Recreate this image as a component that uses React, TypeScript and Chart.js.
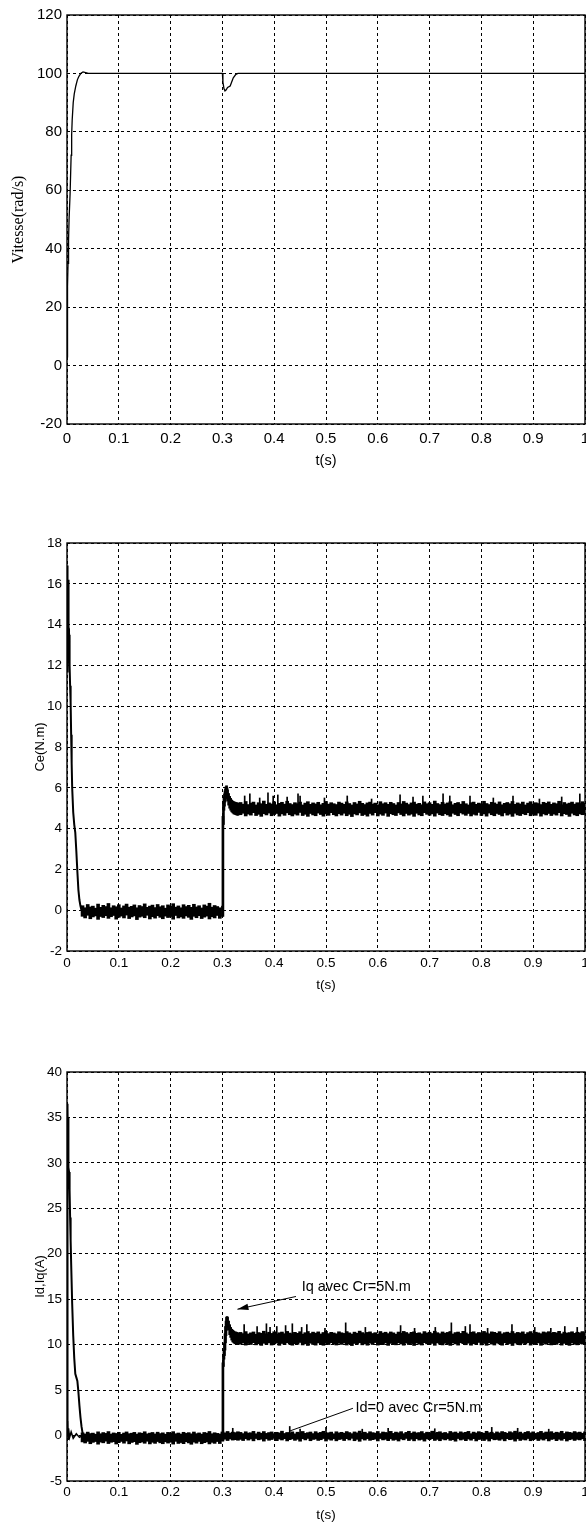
import React, { useEffect, useRef } from "react";
import { Chart, registerables } from "chart.js";
Chart.register(...registerables);

// ---------- axes ----------
const X_TICKS = [0, 0.1, 0.2, 0.3, 0.4, 0.5, 0.6, 0.7, 0.8, 0.9, 1];
const X_LABELS = ["0", "0.1", "0.2", "0.3", "0.4", "0.5", "0.6", "0.7", "0.8", "0.9", "1"];
const SPEED_TICKS = [-20, 0, 20, 40, 60, 80, 100, 120];
const CE_TICKS = [-2, 0, 2, 4, 6, 8, 10, 12, 14, 16, 18];
const I_TICKS = [-5, 0, 5, 10, 15, 20, 25, 30, 35, 40];

// ---------- speed (rad/s) ----------
const SPEED_T = [0, 0.001, 0.002, 0.003, 0.004, 0.006, 0.008, 0.009, 0.010, 0.012, 0.014, 0.017, 0.020, 0.023, 0.027, 0.031, 0.036, 0.041, 0.3, 0.301, 0.303, 0.305, 0.307, 0.310, 0.315, 0.321, 0.326, 0.330, 1.0];
const SPEED_V = [3, 27, 35, 43, 50, 59, 72, 79, 84, 90, 93, 95.7, 97.8, 99, 100.1, 100.5, 100.3, 100, 100, 97, 94.8, 94, 94.3, 95.2, 95.7, 98.5, 99.7, 100, 100];

// ---------- shared sample times of the noisy parts ----------
const T_NOISE1 = [0.03, 0.035, 0.04, 0.045, 0.05, 0.055, 0.06, 0.065, 0.07, 0.075,
  0.08, 0.085, 0.09, 0.095, 0.1, 0.105, 0.11, 0.115, 0.12, 0.125,
  0.13, 0.135, 0.14, 0.145, 0.15, 0.155, 0.16, 0.165, 0.17, 0.175,
  0.18, 0.185, 0.19, 0.195, 0.2, 0.205, 0.21, 0.215, 0.22, 0.225,
  0.23, 0.235, 0.24, 0.245, 0.25, 0.255, 0.26, 0.265, 0.27, 0.275,
  0.28, 0.285, 0.29, 0.295];
const T_STEP = [0.300, 0.301, 0.302, 0.303, 0.304, 0.305, 0.306, 0.307, 0.308, 0.309, 0.310, 0.312, 0.314, 0.316, 0.318, 0.320, 0.322, 0.324, 0.326, 0.328, 0.330];
const T_NOISE2 = [0.335, 0.34, 0.345, 0.35, 0.355, 0.36, 0.365, 0.37, 0.375, 0.38,
  0.385, 0.39, 0.395, 0.4, 0.405, 0.41, 0.415, 0.42, 0.425, 0.43,
  0.435, 0.44, 0.445, 0.45, 0.455, 0.46, 0.465, 0.47, 0.475, 0.48,
  0.485, 0.49, 0.495, 0.5, 0.505, 0.51, 0.515, 0.52, 0.525, 0.53,
  0.535, 0.54, 0.545, 0.55, 0.555, 0.56, 0.565, 0.57, 0.575, 0.58,
  0.585, 0.59, 0.595, 0.6, 0.605, 0.61, 0.615, 0.62, 0.625, 0.63,
  0.635, 0.64, 0.645, 0.65, 0.655, 0.66, 0.665, 0.67, 0.675, 0.68,
  0.685, 0.69, 0.695, 0.7, 0.705, 0.71, 0.715, 0.72, 0.725, 0.73,
  0.735, 0.74, 0.745, 0.75, 0.755, 0.76, 0.765, 0.77, 0.775, 0.78,
  0.785, 0.79, 0.795, 0.8, 0.805, 0.81, 0.815, 0.82, 0.825, 0.83,
  0.835, 0.84, 0.845, 0.85, 0.855, 0.86, 0.865, 0.87, 0.875, 0.88,
  0.885, 0.89, 0.895, 0.9, 0.905, 0.91, 0.915, 0.92, 0.925, 0.93,
  0.935, 0.94, 0.945, 0.95, 0.955, 0.96, 0.965, 0.97, 0.975, 0.98,
  0.985, 0.99, 0.995, 1.0];

// ---------- Ce (N.m) ----------
const CE_START_T = [0, 0.0004, 0.0008, 0.0012, 0.0016, 0.002, 0.0025, 0.003, 0.0035, 0.004, 0.005, 0.006, 0.007, 0.008, 0.009, 0.010, 0.012, 0.014, 0.016, 0.018, 0.020, 0.022, 0.024, 0.026, 0.028, 0.030];
const CE_START_V = [11.7, 16.9, 12.2, 16.4, 13.0, 16.2, 13.6, 15.0, 13.4, 13.5, 12.0, 11.0, 10.2, 8.6, 7.2, 6.0, 4.8, 4.2, 3.8, 2.9, 1.9, 1.0, 0.5, 0.2, 0.0, -0.05];
const CE_HI1 = [0.22, 0.12, 0.28, 0.16, 0.20, 0.10, 0.30, 0.14, 0.24, 0.18,
  0.33, 0.12, 0.22, 0.17, 0.27, 0.11, 0.21, 0.30, 0.15, 0.19,
  0.26, 0.12, 0.23, 0.18, 0.31, 0.14, 0.20, 0.25, 0.13, 0.28,
  0.17, 0.22, 0.10, 0.26, 0.19, 0.32, 0.15, 0.21, 0.12, 0.27,
  0.18, 0.24, 0.14, 0.29, 0.16, 0.22, 0.11, 0.26, 0.20, 0.34,
  0.15, 0.23, 0.18, 0.12];
const CE_LO1 = [-0.30, -0.38, -0.25, -0.42, -0.33, -0.28, -0.45, -0.31, -0.36, -0.27,
  -0.40, -0.32, -0.26, -0.44, -0.35, -0.29, -0.38, -0.24, -0.41, -0.33,
  -0.28, -0.46, -0.34, -0.30, -0.37, -0.25, -0.43, -0.32, -0.39, -0.27,
  -0.35, -0.42, -0.29, -0.36, -0.31, -0.44, -0.26, -0.38, -0.33, -0.40,
  -0.28, -0.35, -0.45, -0.30, -0.37, -0.27, -0.41, -0.34, -0.29, -0.43,
  -0.32, -0.38, -0.26, -0.40];
const CE_STEP_LO = [-0.3, -0.3, 4.2, 4.9, 5.1, 5.3, 5.45, 5.55, 5.6, 5.5, 5.35, 5.15, 5.0, 4.9, 4.82, 4.77, 4.72, 4.7, 4.68, 4.66, 4.65];
const CE_STEP_HI = [0.2, 4.6, 5.3, 5.55, 5.7, 5.85, 5.95, 6.05, 6.1, 6.0, 5.9, 5.72, 5.58, 5.48, 5.4, 5.35, 5.32, 5.3, 5.28, 5.27, 5.25];
const CE_HI2 = [5.28, 5.20, 5.33, 5.18, 5.25, 5.30, 5.16, 5.27, 5.22, 5.35, 5.19, 5.26, 5.21, 5.31, 5.17, 5.24, 5.29, 5.20, 5.34, 5.23,
  5.18, 5.27, 5.22, 5.30, 5.16, 5.25, 5.32, 5.19, 5.26, 5.21, 5.29, 5.17, 5.24, 5.33, 5.20, 5.27, 5.22, 5.18, 5.30, 5.25,
  5.19, 5.31, 5.23, 5.16, 5.28, 5.21, 5.34, 5.24, 5.18, 5.26, 5.30, 5.20, 5.25, 5.17, 5.32, 5.22, 5.27, 5.19, 5.29, 5.23,
  5.16, 5.28, 5.21, 5.33, 5.25, 5.18, 5.26, 5.30, 5.20, 5.24, 5.17, 5.31, 5.22, 5.27, 5.19, 5.35, 5.23, 5.18, 5.29, 5.21,
  5.26, 5.32, 5.17, 5.24, 5.28, 5.20, 5.33, 5.22, 5.16, 5.27, 5.30, 5.19, 5.25, 5.21, 5.34, 5.23, 5.18, 5.29, 5.26, 5.20,
  5.31, 5.17, 5.24, 5.28, 5.22, 5.33, 5.19, 5.26, 5.21, 5.30, 5.16, 5.25, 5.32, 5.20, 5.27, 5.23, 5.18, 5.29, 5.24, 5.31,
  5.19, 5.26, 5.22, 5.34, 5.17, 5.28, 5.21, 5.25, 5.30, 5.20, 5.27, 5.23, 5.32, 5.24];
const CE_LO2 = [4.68, 4.75, 4.62, 4.71, 4.66, 4.78, 4.64, 4.70, 4.60, 4.73, 4.67, 4.76, 4.63, 4.69, 4.74, 4.61, 4.72, 4.65, 4.77, 4.68,
  4.62, 4.71, 4.66, 4.79, 4.64, 4.70, 4.60, 4.74, 4.67, 4.63, 4.76, 4.69, 4.61, 4.72, 4.65, 4.78, 4.68, 4.62, 4.73, 4.66,
  4.75, 4.63, 4.70, 4.59, 4.72, 4.67, 4.77, 4.64, 4.69, 4.61, 4.74, 4.66, 4.78, 4.62, 4.71, 4.65, 4.76, 4.60, 4.73, 4.68,
  4.64, 4.77, 4.69, 4.62, 4.74, 4.66, 4.71, 4.60, 4.75, 4.67, 4.63, 4.78, 4.70, 4.65, 4.72, 4.61, 4.76, 4.68, 4.64, 4.73,
  4.67, 4.60, 4.75, 4.69, 4.63, 4.77, 4.71, 4.65, 4.74, 4.62, 4.70, 4.66, 4.79, 4.64, 4.72, 4.61, 4.76, 4.68, 4.63, 4.74,
  4.69, 4.62, 4.77, 4.66, 4.71, 4.60, 4.75, 4.67, 4.64, 4.73, 4.68, 4.78, 4.63, 4.70, 4.65, 4.76, 4.61, 4.72, 4.67, 4.74,
  4.64, 4.71, 4.66, 4.78, 4.62, 4.73, 4.69, 4.60, 4.75, 4.67, 4.63, 4.72, 4.68, 4.70];
const CE_SPIKE_T = [0.343, 0.353, 0.372, 0.388, 0.398, 0.407, 0.425, 0.446, 0.450, 0.497, 0.541, 0.588, 0.643, 0.668, 0.687, 0.726, 0.739, 0.778, 0.823, 0.861, 0.912, 0.955, 0.990];
const CE_SPIKE_HI = [5.6, 5.7, 5.5, 5.75, 5.6, 5.65, 5.55, 5.7, 5.6, 5.5, 5.6, 5.45, 5.65, 5.55, 5.6, 5.7, 5.6, 5.6, 5.5, 5.6, 5.45, 5.55, 5.7];
const CE_SPIKE_BASE = 5.0;

// ---------- Iq, Id (A) ----------
const IQ_START_T = [0, 0.0005, 0.001, 0.0015, 0.002, 0.0025, 0.003, 0.004, 0.005, 0.006, 0.007, 0.008, 0.010, 0.012, 0.014, 0.016, 0.018, 0.020, 0.022, 0.024, 0.026, 0.028, 0.030, 0.032];
const IQ_START_V = [0, 36.5, 30.0, 36.0, 31.0, 35.0, 29.5, 29.0, 27.0, 24.0, 21.5, 19.0, 14.5, 11.0, 8.5, 6.8, 6.4, 6.0, 4.8, 3.3, 2.0, 1.0, 0.3, 0.0];
const IQ_HI1 = [0.30, 0.18, 0.38, 0.22, 0.27, 0.15, 0.41, 0.20, 0.33, 0.24,
  0.44, 0.17, 0.29, 0.23, 0.36, 0.14, 0.28, 0.40, 0.21, 0.26,
  0.35, 0.16, 0.31, 0.25, 0.42, 0.19, 0.27, 0.34, 0.18, 0.37,
  0.22, 0.30, 0.15, 0.35, 0.26, 0.43, 0.20, 0.28, 0.17, 0.36,
  0.24, 0.32, 0.19, 0.39, 0.21, 0.29, 0.16, 0.34, 0.27, 0.45,
  0.20, 0.31, 0.24, 0.18];
const IQ_LO1 = [-0.70, -0.82, -0.64, -0.90, -0.75, -0.66, -0.95, -0.72, -0.80, -0.62,
  -0.88, -0.74, -0.68, -0.93, -0.78, -0.65, -0.84, -0.60, -0.91, -0.76,
  -0.67, -0.97, -0.79, -0.71, -0.85, -0.63, -0.92, -0.74, -0.86, -0.66,
  -0.80, -0.90, -0.69, -0.83, -0.73, -0.94, -0.64, -0.87, -0.77, -0.89,
  -0.68, -0.81, -0.96, -0.72, -0.84, -0.65, -0.90, -0.78, -0.70, -0.92,
  -0.75, -0.86, -0.66, -0.88];
const IQ_STEP_LO = [-0.6, -0.6, 7.6, 8.4, 8.8, 9.4, 10.2, 11.0, 11.6, 11.9, 12.0, 11.6, 11.1, 10.8, 10.5, 10.3, 10.2, 10.1, 10.1, 10.0, 10.0];
const IQ_STEP_HI = [0.3, 8.0, 8.8, 9.4, 10.2, 11.2, 12.0, 12.6, 13.0, 13.1, 13.0, 12.6, 12.2, 11.9, 11.7, 11.6, 11.5, 11.4, 11.4, 11.35, 11.3];
const IQ_HI2 = [11.35, 11.22, 11.44, 11.18, 11.30, 11.40, 11.15, 11.33, 11.26, 11.48, 11.20, 11.37, 11.24, 11.42, 11.17, 11.31, 11.39, 11.21, 11.46, 11.28,
  11.19, 11.36, 11.25, 11.43, 11.16, 11.32, 11.45, 11.23, 11.38, 11.27, 11.41, 11.18, 11.34, 11.47, 11.22, 11.36, 11.29, 11.20, 11.42, 11.31,
  11.24, 11.44, 11.30, 11.17, 11.38, 11.26, 11.49, 11.33, 11.21, 11.35, 11.41, 11.23, 11.32, 11.18, 11.45, 11.28, 11.37, 11.22, 11.40, 11.30,
  11.16, 11.39, 11.27, 11.46, 11.34, 11.20, 11.36, 11.42, 11.25, 11.31, 11.19, 11.44, 11.29, 11.37, 11.23, 11.48, 11.32, 11.21, 11.40, 11.27,
  11.35, 11.45, 11.18, 11.33, 11.39, 11.24, 11.47, 11.30, 11.17, 11.36, 11.42, 11.22, 11.34, 11.28, 11.46, 11.31, 11.20, 11.41, 11.36, 11.25,
  11.43, 11.19, 11.32, 11.38, 11.27, 11.45, 11.23, 11.35, 11.29, 11.41, 11.16, 11.33, 11.44, 11.24, 11.37, 11.30, 11.21, 11.40, 11.32, 11.43,
  11.26, 11.36, 11.30, 11.47, 11.20, 11.38, 11.28, 11.33, 11.42, 11.25, 11.37, 11.31, 11.44, 11.34];
const IQ_LO2 = [10.05, 10.18, 9.95, 10.12, 10.02, 10.22, 9.98, 10.10, 9.92, 10.15, 10.03, 10.20, 9.96, 10.08, 10.17, 9.93, 10.13, 10.00, 10.21, 10.06,
  9.94, 10.11, 10.04, 10.24, 9.97, 10.09, 9.91, 10.16, 10.02, 9.95, 10.19, 10.07, 9.93, 10.14, 10.01, 10.22, 10.05, 9.96, 10.15, 10.03,
  10.18, 9.96, 10.10, 9.90, 10.13, 10.04, 10.21, 9.98, 10.08, 9.94, 10.16, 10.02, 10.23, 9.95, 10.11, 10.00, 10.19, 9.92, 10.14, 10.06,
  9.98, 10.20, 10.07, 9.94, 10.17, 10.01, 10.12, 9.91, 10.18, 10.04, 9.96, 10.22, 10.09, 10.00, 10.14, 9.93, 10.19, 10.05, 9.97, 10.15,
  10.03, 9.92, 10.18, 10.08, 9.95, 10.21, 10.11, 9.99, 10.16, 9.94, 10.10, 10.02, 10.24, 9.97, 10.13, 9.93, 10.20, 10.06, 9.96, 10.17,
  10.08, 9.94, 10.21, 10.02, 10.12, 9.91, 10.18, 10.04, 9.98, 10.15, 10.06, 10.22, 9.95, 10.10, 10.01, 10.19, 9.93, 10.13, 10.05, 10.16,
  9.97, 10.11, 10.03, 10.20, 9.95, 10.14, 10.07, 9.92, 10.18, 10.04, 9.98, 10.12, 10.06, 10.09];
const IQ_SPIKE_T = [0.342, 0.367, 0.385, 0.392, 0.405, 0.422, 0.435, 0.453, 0.463, 0.498, 0.538, 0.576, 0.644, 0.671, 0.711, 0.742, 0.769, 0.778, 0.812, 0.859, 0.903, 0.934, 0.961, 0.985];
const IQ_SPIKE_HI = [12.2, 12.0, 12.3, 11.9, 12.0, 12.1, 12.3, 11.9, 12.2, 11.8, 12.4, 11.9, 12.1, 11.8, 11.9, 12.4, 12.0, 12.2, 11.8, 12.2, 11.9, 11.8, 12.0, 11.9];
const IQ_SPIKE_BASE = 10.8;

const ID_START_T = [0, 0.001, 0.002, 0.003, 0.005, 0.008, 0.012, 0.018, 0.024, 0.030];
const ID_START_V = [0, 1.6, -0.4, 0.8, -0.2, 0.4, -0.3, 0.2, -0.2, 0.0];
const ID_MID_T = [0.300, 0.305, 0.310, 0.315, 0.320, 0.325, 0.330];
const ID_MID_HI = [0.4, 0.3, 0.45, 0.28, 0.38, 0.32, 0.42];
const ID_MID_LO = [-0.5, -0.4, -0.55, -0.38, -0.5, -0.45, -0.52];
const ID_HI2 = [0.35, 0.22, 0.42, 0.28, 0.31, 0.46, 0.20, 0.38, 0.26, 0.44, 0.24, 0.33, 0.40, 0.21, 0.36, 0.29, 0.48, 0.23, 0.34, 0.27,
  0.41, 0.19, 0.37, 0.30, 0.45, 0.25, 0.32, 0.39, 0.22, 0.43, 0.28, 0.35, 0.47, 0.24, 0.31, 0.38, 0.20, 0.42, 0.29, 0.36,
  0.26, 0.44, 0.33, 0.21, 0.40, 0.30, 0.49, 0.25, 0.37, 0.23, 0.42, 0.32, 0.27, 0.45, 0.22, 0.39, 0.34, 0.28, 0.46, 0.24,
  0.38, 0.30, 0.43, 0.21, 0.35, 0.47, 0.26, 0.40, 0.29, 0.33, 0.44, 0.23, 0.37, 0.31, 0.48, 0.25, 0.36, 0.42, 0.27, 0.34,
  0.22, 0.45, 0.32, 0.39, 0.24, 0.41, 0.30, 0.36, 0.46, 0.21, 0.38, 0.28, 0.43, 0.33, 0.26, 0.47, 0.31, 0.37, 0.23, 0.40,
  0.29, 0.44, 0.35, 0.25, 0.42, 0.32, 0.48, 0.27, 0.38, 0.22, 0.36, 0.45, 0.30, 0.41, 0.24, 0.34, 0.46, 0.28, 0.39, 0.33,
  0.43, 0.26, 0.37, 0.31, 0.47, 0.23, 0.40, 0.35, 0.29, 0.44, 0.32, 0.38, 0.25, 0.41];
const ID_LO2 = [-0.42, -0.55, -0.35, -0.50, -0.38, -0.58, -0.33, -0.47, -0.40, -0.61, -0.36, -0.52, -0.44, -0.31, -0.56, -0.39, -0.49, -0.34, -0.59, -0.45,
  -0.37, -0.53, -0.41, -0.62, -0.35, -0.48, -0.32, -0.57, -0.43, -0.38, -0.54, -0.46, -0.33, -0.60, -0.40, -0.51, -0.36, -0.58, -0.44, -0.39,
  -0.55, -0.34, -0.49, -0.31, -0.57, -0.42, -0.63, -0.37, -0.50, -0.35, -0.53, -0.45, -0.39, -0.59, -0.33, -0.48, -0.41, -0.56, -0.36, -0.52,
  -0.44, -0.60, -0.38, -0.47, -0.32, -0.55, -0.40, -0.58, -0.35, -0.50, -0.43, -0.61, -0.37, -0.46, -0.34, -0.54, -0.42, -0.57, -0.39, -0.48,
  -0.36, -0.53, -0.45, -0.62, -0.33, -0.49, -0.41, -0.56, -0.38, -0.51, -0.34, -0.59, -0.44, -0.37, -0.55, -0.40, -0.60, -0.35, -0.47, -0.43,
  -0.52, -0.39, -0.58, -0.34, -0.46, -0.41, -0.61, -0.36, -0.54, -0.42, -0.49, -0.33, -0.57, -0.45, -0.38, -0.55, -0.40, -0.50, -0.35, -0.59,
  -0.43, -0.37, -0.56, -0.41, -0.52, -0.34, -0.60, -0.46, -0.39, -0.54, -0.42, -0.48, -0.36, -0.57];
const ID_SPIKE_T = [0.32, 0.43, 0.45, 0.50, 0.57, 0.62, 0.71, 0.82, 0.87, 0.93];
const ID_SPIKE_HI = [0.8, 1.0, 0.7, 0.9, 0.7, 0.8, 0.75, 0.9, 0.8, 0.7];
const ID_SPIKE_BASE = 0;

// ---------- annotations (data coordinates) ----------
const NOTE_TEXTS = ["Iq avec Cr=5N.m", "Id=0 avec Cr=5N.m"];
const NOTE_TEXT_AT = [[0.453, 16.3], [0.557, 3.0]];
const NOTE_LINE_FROM = [[0.442, 15.3], [0.552, 3.0]];
const NOTE_LINE_TO = [[0.329, 13.9], [0.430, 0.5]];
const NOTE_HEAD = [true, false];

// ---------- helpers ----------
const SANS = "'Liberation Sans', Arial, sans-serif";
const SERIF = "'Liberation Serif', 'Times New Roman', serif";

function line(t: number[], v: number[], w: number) {
  const n = Math.min(t.length, v.length);
  const data = [];
  for (let i = 0; i < n; i++) data.push({ x: t[i], y: v[i] });
  return { type: "line", data, borderColor: "#000", borderWidth: w, pointRadius: 0, tension: 0, fill: false };
}
function bars(t: number[], lo: number[] | number, hi: number[], w: number) {
  const n = Math.min(t.length, hi.length);
  const data = [];
  for (let i = 0; i < n; i++) {
    const l = Array.isArray(lo) ? lo[i] : lo;
    data.push({ x: t[i], y: [l, hi[i]] });
  }
  return { type: "bar", data, backgroundColor: "#000", borderWidth: 0, barThickness: w, grouped: false };
}

const boxPlugin = {
  id: "box",
  afterDraw(chart: any) {
    const { ctx, chartArea: a } = chart;
    ctx.save();
    ctx.strokeStyle = "#000";
    ctx.lineWidth = 1.4;
    ctx.strokeRect(a.left, a.top, a.right - a.left, a.bottom - a.top);
    ctx.restore();
  },
};

const notePlugin = {
  id: "notes",
  afterDraw(chart: any) {
    const { ctx } = chart;
    const xs = chart.scales.x, ys = chart.scales.y;
    ctx.save();
    ctx.strokeStyle = "#000";
    ctx.fillStyle = "#000";
    ctx.lineWidth = 1;
    ctx.font = `14.5px ${SANS}`;
    ctx.textBaseline = "middle";
    ctx.textAlign = "left";
    for (let i = 0; i < NOTE_TEXTS.length; i++) {
      const x1 = xs.getPixelForValue(NOTE_LINE_FROM[i][0]);
      const y1 = ys.getPixelForValue(NOTE_LINE_FROM[i][1]);
      const x2 = xs.getPixelForValue(NOTE_LINE_TO[i][0]);
      const y2 = ys.getPixelForValue(NOTE_LINE_TO[i][1]);
      ctx.beginPath();
      ctx.moveTo(x1, y1);
      ctx.lineTo(x2, y2);
      ctx.stroke();
      if (NOTE_HEAD[i]) {
        const ang = Math.atan2(y2 - y1, x2 - x1);
        const L = 11, H = 3.2;
        ctx.beginPath();
        ctx.moveTo(x2, y2);
        ctx.lineTo(x2 - L * Math.cos(ang) + H * Math.sin(ang), y2 - L * Math.sin(ang) - H * Math.cos(ang));
        ctx.lineTo(x2 - L * Math.cos(ang) - H * Math.sin(ang), y2 - L * Math.sin(ang) + H * Math.cos(ang));
        ctx.closePath();
        ctx.fill();
      }
      ctx.fillText(NOTE_TEXTS[i], xs.getPixelForValue(NOTE_TEXT_AT[i][0]), ys.getPixelForValue(NOTE_TEXT_AT[i][1]));
    }
    ctx.restore();
  },
};

type Spec = {
  height: number;
  padTop: number;
  xAxisH: number;
  yMin: number;
  yMax: number;
  yTicks: number[];
  tickSize: number;
  xTickPad: number;
  yTickPad: number;
  xTitleSize: number;
  xTitlePadBottom: number;
  yTitle: string;
  yTitleFont: string;
  yTitleSize: number;
  yTitlePadTop: number;
  datasets: any[];
  plugins: any[];
};

function buildConfig(s: Spec): any {
  return {
    type: "line",
    data: { datasets: s.datasets },
    options: {
      responsive: false,
      animation: false,
      events: [],
      layout: { padding: { top: s.padTop, left: 0, right: 1, bottom: 0 } },
      plugins: { legend: { display: false }, tooltip: { enabled: false } },
      scales: {
        x: {
          type: "linear",
          min: 0,
          max: 1,
          offset: false,
          afterBuildTicks: (sc: any) => { sc.ticks = X_TICKS.map((v) => ({ value: v })); },
          afterFit: (sc: any) => { sc.height = s.xAxisH; sc.paddingLeft = 0; sc.paddingRight = 0; },
          grid: { color: "#000", lineWidth: 1, drawTicks: false, offset: false },
          border: { display: false, dash: [3, 3] },
          ticks: {
            color: "#000",
            font: { family: SANS, size: s.tickSize },
            padding: s.xTickPad,
            maxRotation: 0,
            autoSkip: false,
            callback: (_v: any, i: number) => X_LABELS[i],
          },
          title: {
            display: true,
            text: "t(s)",
            color: "#000",
            font: { family: SANS, size: s.xTitleSize },
            padding: { top: 0, bottom: s.xTitlePadBottom },
          },
        },
        y: {
          type: "linear",
          min: s.yMin,
          max: s.yMax,
          afterBuildTicks: (sc: any) => { sc.ticks = s.yTicks.map((v) => ({ value: v })); },
          afterFit: (sc: any) => { sc.width = 67; sc.paddingTop = 0; sc.paddingBottom = 0; },
          grid: { color: "#000", lineWidth: 1, drawTicks: false },
          border: { display: false, dash: [3, 3] },
          ticks: {
            color: "#000",
            font: { family: SANS, size: s.tickSize },
            padding: s.yTickPad,
            autoSkip: false,
            callback: (v: any) => String(v),
          },
          title: {
            display: true,
            text: s.yTitle,
            color: "#000",
            font: { family: s.yTitleFont, size: s.yTitleSize },
            padding: { top: s.yTitlePadTop, bottom: 0 },
          },
        },
      },
    },
    plugins: [boxPlugin, ...s.plugins],
  };
}

const SPEC_SPEED: Spec = {
  height: 480, padTop: 15, xAxisH: 56, yMin: -20, yMax: 120, yTicks: SPEED_TICKS,
  tickSize: 15, xTickPad: 5.5, yTickPad: 5, xTitleSize: 14.5, xTitlePadBottom: 10.3,
  yTitle: "Vitesse(rad/s)", yTitleFont: SERIF, yTitleSize: 16, yTitlePadTop: 9.4,
  datasets: [line(SPEED_T, SPEED_V, 1.3)],
  plugins: [],
};

const SPEC_CE: Spec = {
  height: 530, padTop: 63, xAxisH: 59, yMin: -2, yMax: 18, yTicks: CE_TICKS,
  tickSize: 13.5, xTickPad: 3.8, yTickPad: 5, xTitleSize: 13.5, xTitlePadBottom: 16.8,
  yTitle: "Ce(N.m)", yTitleFont: SANS, yTitleSize: 13, yTitlePadTop: 33,
  datasets: [
    line(CE_START_T, CE_START_V, 2),
    bars(T_NOISE1, CE_LO1, CE_HI1, 3),
    bars(T_STEP, CE_STEP_LO, CE_STEP_HI, 2),
    bars(T_NOISE2, CE_LO2, CE_HI2, 3),
    bars(CE_SPIKE_T, CE_SPIKE_BASE, CE_SPIKE_HI, 1),
  ],
  plugins: [],
};

const SPEC_I: Spec = {
  height: 516, padTop: 62, xAxisH: 45, yMin: -5, yMax: 40, yTicks: I_TICKS,
  tickSize: 13.5, xTickPad: 3.4, yTickPad: 5, xTitleSize: 13.5, xTitlePadBottom: 2.8,
  yTitle: "Id,Iq(A)", yTitleFont: SANS, yTitleSize: 13, yTitlePadTop: 33,
  datasets: [
    line(IQ_START_T, IQ_START_V, 2),
    line(ID_START_T, ID_START_V, 1.5),
    bars(T_NOISE1, IQ_LO1, IQ_HI1, 3),
    bars(T_STEP, IQ_STEP_LO, IQ_STEP_HI, 2),
    bars(T_NOISE2, IQ_LO2, IQ_HI2, 3),
    bars(IQ_SPIKE_T, IQ_SPIKE_BASE, IQ_SPIKE_HI, 1),
    bars(ID_MID_T, ID_MID_LO, ID_MID_HI, 3),
    bars(T_NOISE2, ID_LO2, ID_HI2, 3),
    bars(ID_SPIKE_T, ID_SPIKE_BASE, ID_SPIKE_HI, 1),
  ],
  plugins: [notePlugin],
};

function Plot({ top, spec }: { top: number; spec: Spec }) {
  const ref = useRef<HTMLCanvasElement | null>(null);
  useEffect(() => {
    if (!ref.current) return;
    const chart = new Chart(ref.current, buildConfig(spec));
    return () => chart.destroy();
  }, [spec]);
  return (
    <canvas
      ref={ref}
      width={586}
      height={spec.height}
      style={{ position: "absolute", left: 0, top, width: 586, height: spec.height, display: "block" }}
    />
  );
}

export default function App() {
  return (
    <div style={{ position: "absolute", left: 0, top: 0, width: 586, height: 1526, background: "#fff", overflow: "hidden" }}>
      <Plot top={0} spec={SPEC_SPEED} />
      <Plot top={480} spec={SPEC_CE} />
      <Plot top={1010} spec={SPEC_I} />
    </div>
  );
}
